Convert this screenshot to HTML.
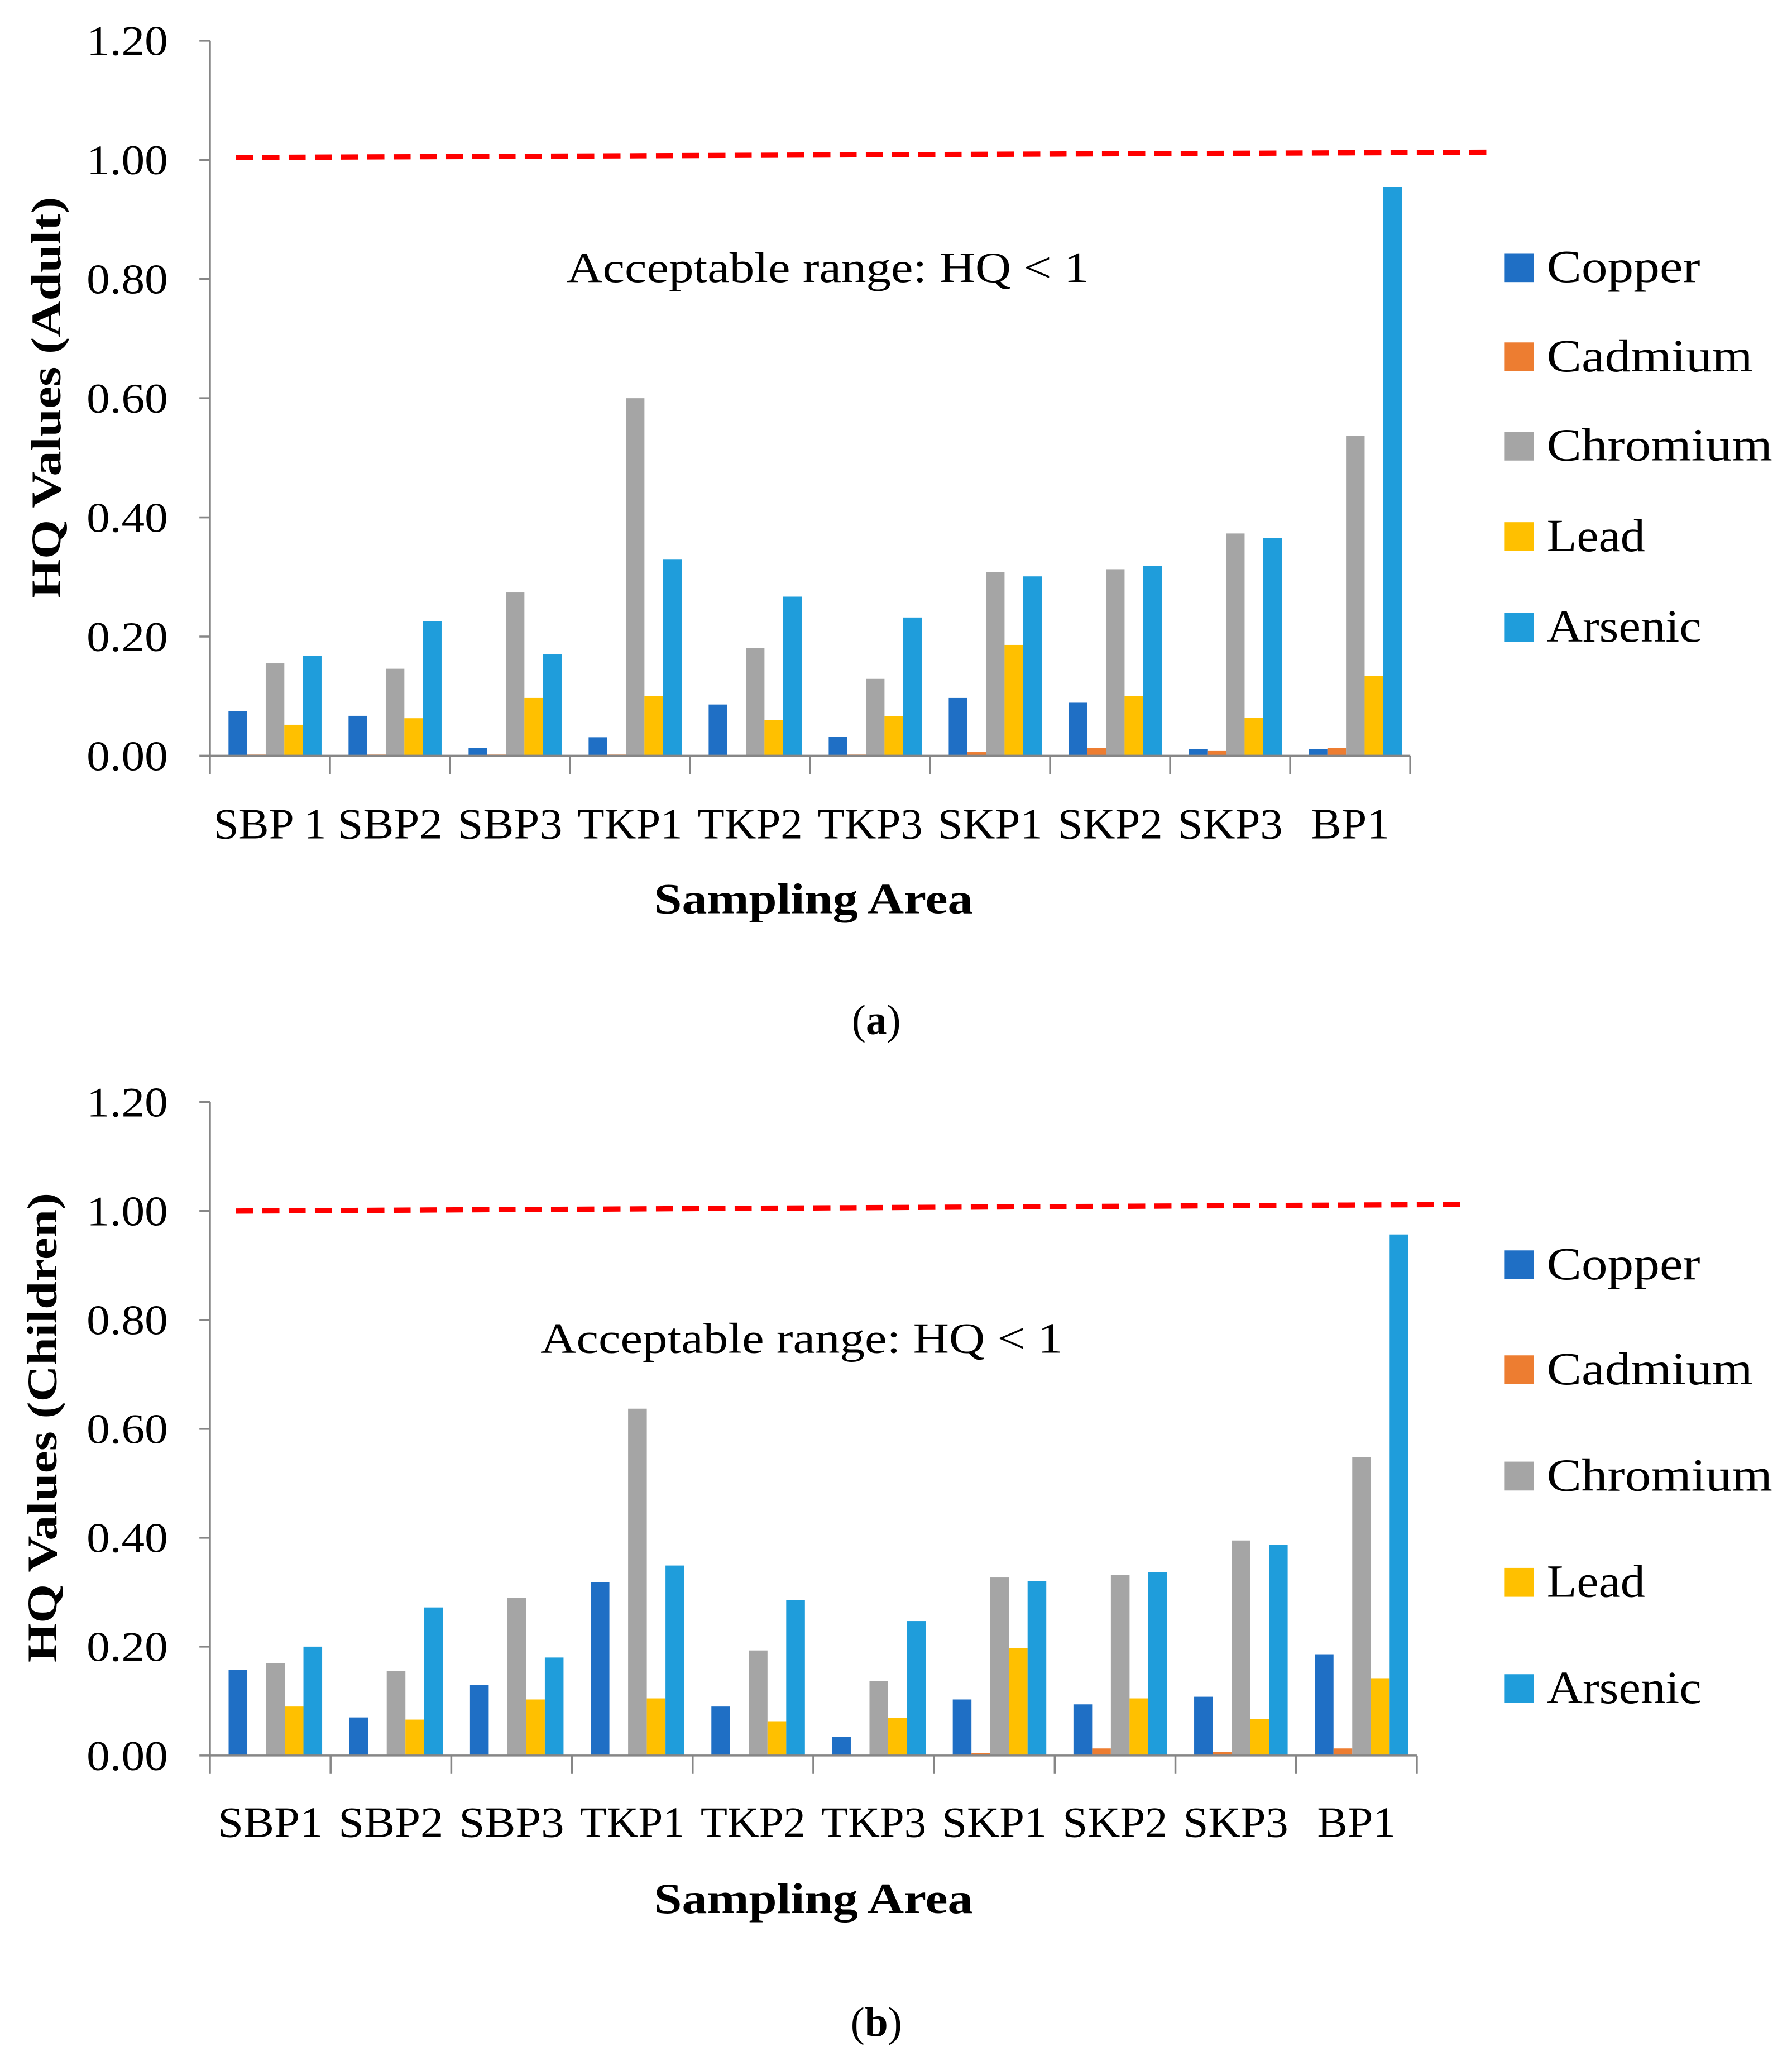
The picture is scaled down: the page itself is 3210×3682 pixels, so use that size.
<!DOCTYPE html>
<html><head><meta charset="utf-8"><style>
html,body{margin:0;padding:0;background:#fff;}
svg{display:block;}
text{font-family:"Liberation Serif",serif;fill:#000;}
</style></head><body>
<svg id="c" width="3210" height="3682" viewBox="0 0 1366 1567" preserveAspectRatio="none" xmlns="http://www.w3.org/2000/svg"></svg>
<script>
const categoriesA = ["SBP 1","SBP2","SBP3","TKP1","TKP2","TKP3","SKP1","SKP2","SKP3","BP1"];
const categoriesB = ["SBP1","SBP2","SBP3","TKP1","TKP2","TKP3","SKP1","SKP2","SKP3","BP1"];
const seriesNames = ["Copper","Cadmium","Chromium","Lead","Arsenic"];
const seriesColors = ["#1f6fc5","#ed7d31","#a5a5a5","#ffc000","#1f9ddb"];
const yTicks = ["0.00","0.20","0.40","0.60","0.80","1.00","1.20"];
const adultCopper   = [0.075,0.067,0.013,0.031,0.086,0.032,0.097,0.089,0.011,0.011];
const adultCadmium  = [0.002,0.002,0.002,0.002,0.001,0.002,0.006,0.013,0.008,0.013];
const adultChromium = [0.155,0.146,0.274,0.600,0.181,0.129,0.308,0.313,0.373,0.537];
const adultLead     = [0.052,0.063,0.097,0.100,0.060,0.066,0.186,0.100,0.064,0.134];
const adultArsenic  = [0.168,0.226,0.170,0.330,0.267,0.232,0.301,0.319,0.365,0.955];
const childCopper   = [0.157,0.070,0.130,0.318,0.090,0.034,0.103,0.094,0.108,0.186];
const childCadmium  = [0,0,0,0,0,0,0.005,0.013,0.007,0.013];
const childChromium = [0.170,0.155,0.290,0.637,0.193,0.137,0.327,0.332,0.395,0.548];
const childLead     = [0.090,0.066,0.103,0.105,0.063,0.069,0.197,0.105,0.067,0.142];
const childArsenic  = [0.200,0.272,0.180,0.349,0.285,0.247,0.320,0.337,0.387,0.957];
const limitValue = 1.0;

const NS="http://www.w3.org/2000/svg";
const svg=document.getElementById('c');
function mk(tag,attrs,parent,text){
  const e=document.createElementNS(NS,tag);
  for(const k in attrs) e.setAttribute(k,attrs[k]);
  if(text!==undefined) e.textContent=text;
  (parent||svg).appendChild(e);
  return e;
}
const legLen=[117,157,172,75,118];

function chart(cfg){
  const g=mk('g',{});
  
  
  const x0=cfg.x0,x1=cfg.x1,yTop=cfg.yTop,yBot=cfg.yBot;
  const yS=v=>yBot-(v/1.2)*(yBot-yTop);
  const n=cfg.cats.length, gw=(x1-x0)/n;
  const xS=i=>x0+i*gw;
  yTicks.forEach(t=>{
    const y=yS(parseFloat(t));
    const tl=mk('text',{x:66,y:y+11,'font-size':32,textLength:62,lengthAdjust:'spacingAndGlyphs'},g,t);
    
    
    mk('line',{x1:x0-8,x2:x0,y1:y,y2:y,stroke:'#868686','stroke-width':1.5},g);
  });
  cfg.series.forEach((arr,s)=>{
    arr.forEach((v,i)=>{
      const bx=xS(i)+gw*0.155+s*gw*0.155;
      const r=mk('rect',{x:bx,y:yS(v),width:gw*0.155,height:yBot-yS(v),fill:seriesColors[s]},g);
      
      
    });
  });
  const ya=mk('line',{x1:x0,x2:x0,y1:yTop,y2:yBot,stroke:'#868686','stroke-width':1.5},g);
  
  
  const xa=mk('line',{x1:x0,x2:x1,y1:yBot,y2:yBot,stroke:'#868686','stroke-width':1.5},g);
  
  
  for(let i=0;i<=n;i++) mk('line',{x1:xS(i),x2:xS(i),y1:yBot,y2:yBot+14,stroke:'#868686','stroke-width':1.5},g);
  cfg.cats.forEach((c,i)=>{
    const t=mk('text',{x:xS(i)+gw/2,y:cfg.catY,'text-anchor':'middle','font-size':33,textLength:c.length>4?86:(c.length==3?60:80),lengthAdjust:'spacingAndGlyphs'},g,c);
    
    
  });
  const ll=mk('line',{x1:cfg.dash[0],y1:cfg.dash[1],x2:cfg.dash[2],y2:cfg.dash[3],stroke:'#ff0000','stroke-width':4,'stroke-dasharray':'13 7'},g);
  
  
  const an=mk('text',{x:cfg.annX,y:cfg.annY,'font-size':33,textLength:398,lengthAdjust:'spacingAndGlyphs'},g,'Acceptable range: HQ < 1');
  
  
  const yt=mk('text',{x:0,y:0,'text-anchor':'middle','font-size':32,'font-weight':'bold',transform:`translate(${cfg.ytX},${cfg.ytY}) rotate(-90)`,textLength:cfg.ytLen,lengthAdjust:'spacingAndGlyphs'},g,cfg.ytitle);
  
  
  const xt=mk('text',{x:620,y:cfg.xtY,'text-anchor':'middle','font-size':33,'font-weight':'bold',textLength:243,lengthAdjust:'spacingAndGlyphs'},g,'Sampling Area');
  
  
  const pl=mk('text',{x:668,y:cfg.panelY,'text-anchor':'middle','font-size':32},g,'');
  
  
  mk('tspan',{},pl,'(');mk('tspan',{'font-weight':'bold'},pl,cfg.panel);mk('tspan',{},pl,')');
  seriesNames.forEach((nm,s)=>{
    const ly=cfg.legY[s];
    const le=mk('g',{},g);
    
    
    mk('rect',{x:1147,y:ly-11,width:22,height:22,fill:seriesColors[s]},le);
    mk('text',{x:1179,y:ly+11,'font-size':35,textLength:legLen[s],lengthAdjust:'spacingAndGlyphs'},le,nm);
  });
}

chart({name:'chart-adult',cats:categoriesA,series:[adultCopper,adultCadmium,adultChromium,adultLead,adultArsenic],
  x0:160,x1:1075,yTop:31,yBot:576,catY:639,dash:[180,120,1135,116],annX:432,annY:215,
  ytitle:'HQ Values (Adult)',ytLen:306,ytX:46,ytY:303,xtY:696,panelY:788,panel:'a',legY:[204,272,340,409,478]});
chart({name:'chart-children',cats:categoriesB,series:[childCopper,childCadmium,childChromium,childLead,childArsenic],
  x0:160,x1:1080,yTop:840,yBot:1338,catY:1400,dash:[180,923,1115,918],annX:412,annY:1031,
  ytitle:'HQ Values (Children)',ytLen:358,ytX:43,ytY:1088,xtY:1458,panelY:1552,panel:'b',legY:[964,1044,1125,1206,1287]});
</script>
</body></html>
